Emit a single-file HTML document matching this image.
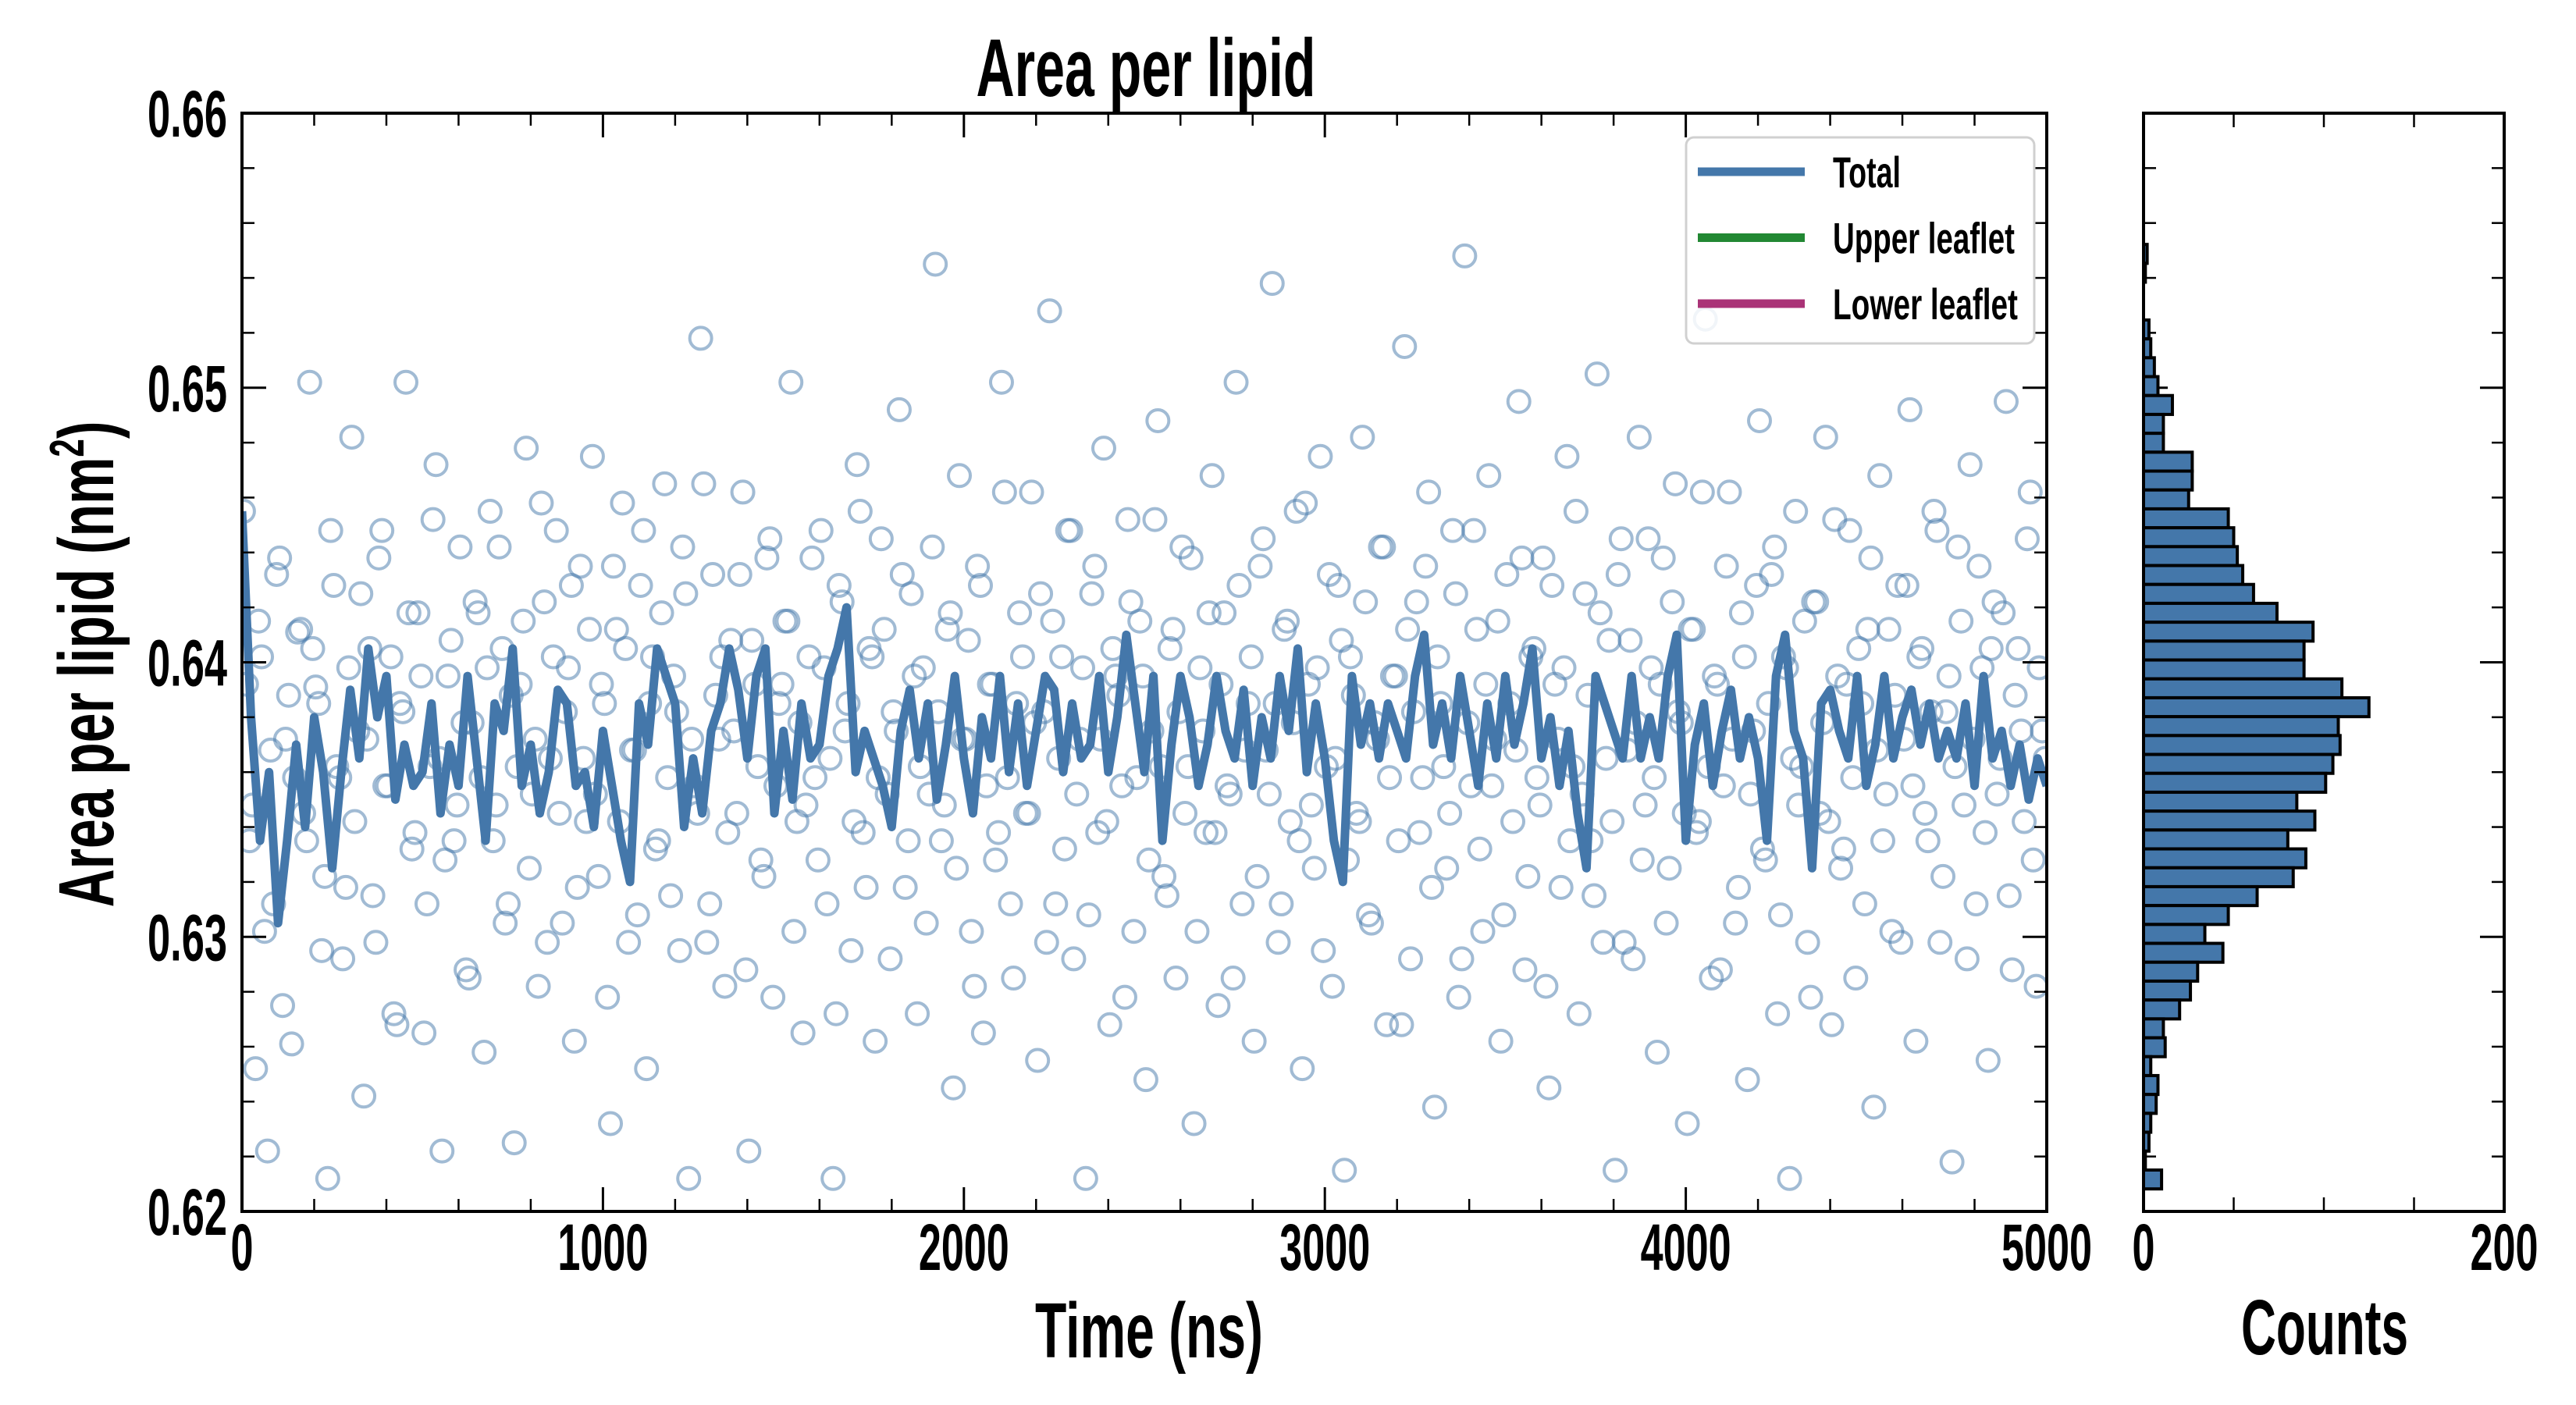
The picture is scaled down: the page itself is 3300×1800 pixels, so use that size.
<!DOCTYPE html>
<html><head><meta charset="utf-8"><style>
html,body{margin:0;padding:0;background:#fff}
svg{display:block}
text{font-family:"Liberation Sans",sans-serif;font-weight:bold;fill:#000}
</style></head><body>
<svg id="chart" width="3300" height="1800" viewBox="0 0 3300 1800" xmlns="http://www.w3.org/2000/svg"></svg>
<script>
// ---- data ----
const lineValues = [0.6455,0.638,0.6335,0.636,0.6305,0.6335,0.637,0.634,0.638,0.636,
0.6325,0.636,0.639,0.6365,0.6405,0.638,0.6395,0.635,0.637,0.6355,
0.636,0.6385,0.6345,0.637,0.6355,0.6395,0.6365,0.6335,0.6385,0.6375,
0.6405,0.6355,0.637,0.6345,0.636,0.639,0.6385,0.6355,0.636,0.634,
0.6375,0.6355,0.6335,0.632,0.6385,0.637,0.6405,0.6395,0.6385,0.634,
0.6365,0.6345,0.6375,0.6385,0.6405,0.639,0.6365,0.6395,0.6405,0.6345,
0.6375,0.635,0.6385,0.6365,0.637,0.6395,0.6405,0.642,0.636,0.6375,
0.6365,0.6355,0.634,0.6375,0.639,0.6365,0.6385,0.635,0.637,0.6395,
0.6365,0.6345,0.638,0.6365,0.6395,0.636,0.6385,0.6355,0.6375,0.6395,
0.639,0.636,0.6385,0.6365,0.637,0.6395,0.636,0.638,0.641,0.6385,
0.636,0.6395,0.6335,0.637,0.6395,0.638,0.6355,0.637,0.6395,0.6375,
0.6365,0.639,0.6355,0.638,0.6365,0.6395,0.6375,0.6405,0.636,0.6385,
0.6365,0.6335,0.632,0.6395,0.637,0.6385,0.6365,0.6385,0.6375,0.6365,
0.6395,0.641,0.637,0.6385,0.6365,0.6395,0.6375,0.6355,0.6385,0.6365,
0.6395,0.637,0.6385,0.6405,0.6365,0.638,0.6355,0.6375,0.6345,0.6325,
0.6395,0.6385,0.6375,0.6365,0.6395,0.6365,0.638,0.6365,0.6395,0.641,
0.6335,0.637,0.6385,0.6355,0.6375,0.639,0.6365,0.638,0.6365,0.6335,
0.6395,0.641,0.6375,0.6365,0.6325,0.6385,0.639,0.6375,0.6365,0.6395,
0.6355,0.637,0.6395,0.6365,0.638,0.639,0.637,0.6385,0.6365,0.6375,
0.6365,0.6385,0.6355,0.6395,0.6365,0.6375,0.6355,0.637,0.635,0.6365,0.6355];
const scatterValues = [0.6455,0.6335,0.6252,0.6402,0.6222,0.6312,0.6438,0.6372,0.6261,0.6411,
0.6345,0.6502,0.6391,0.6295,0.6212,0.6428,0.6358,0.6318,0.6482,0.6375,
0.6242,0.6405,0.6298,0.6448,0.6355,0.6272,0.6385,0.6502,0.6332,0.6418,
0.6265,0.6362,0.6472,0.6222,0.6395,0.6335,0.6442,0.6288,0.6378,0.6418,
0.6258,0.6455,0.6348,0.6405,0.6312,0.6225,0.6392,0.6478,0.6352,0.6282,
0.6422,0.6365,0.6448,0.6305,0.6398,0.6262,0.6435,0.6342,0.6475,0.6322,
0.6385,0.6232,0.6412,0.6458,0.6298,0.6368,0.6428,0.6252,0.6402,0.6335,
0.6465,0.6315,0.6382,0.6442,0.6212,0.6355,0.6518,0.6298,0.6432,0.6372,
0.6282,0.6408,0.6345,0.6462,0.6222,0.6392,0.6328,0.6438,0.6278,0.6385,
0.6415,0.6502,0.6342,0.6265,0.6402,0.6358,0.6448,0.6312,0.6212,0.6428,
0.6375,0.6295,0.6472,0.6338,0.6405,0.6262,0.6445,0.6352,0.6382,0.6492,
0.6318,0.6425,0.6272,0.6398,0.6352,0.6545,0.6335,0.6412,0.6245,0.6468,
0.6372,0.6302,0.6435,0.6265,0.6392,0.6328,0.6502,0.6358,0.6285,0.6418,
0.6345,0.6462,0.6255,0.6382,0.6528,0.6312,0.6402,0.6448,0.6292,0.6372,
0.6212,0.6425,0.6338,0.6478,0.6268,0.6395,0.6355,0.6452,0.6302,0.6415,
0.6248,0.6375,0.6488,0.6322,0.6405,0.6285,0.6442,0.6362,0.6232,0.6398,
0.6338,0.6468,0.6275,0.6418,0.6352,0.6502,0.6312,0.6385,0.6262,0.6435,
0.6368,0.6538,0.6298,0.6412,0.6342,0.6455,0.6252,0.6392,0.6325,0.6475,
0.6362,0.6282,0.6428,0.6215,0.6402,0.6345,0.6482,0.6308,0.6378,0.6442,
0.6268,0.6395,0.6335,0.6515,0.6292,0.6422,0.6358,0.6462,0.6238,0.6385,
0.6325,0.6448,0.6278,0.6548,0.6355,0.6412,0.6302,0.6468,0.6372,0.6262,
0.6432,0.6342,0.6495,0.6288,0.6402,0.6358,0.6438,0.6245,0.6392,0.6318,
0.6475,0.6362,0.6272,0.6425,0.6335,0.6505,0.6298,0.6408,0.6215,0.6445,
0.6368,0.6292,0.6482,0.6348,0.6398,0.6258,0.6438,0.6325,0.6465,0.6378,
0.6232,0.6412,0.6342,0.6525,0.6285,0.6392,0.6355,0.6462,0.6305,0.6418,
0.6248,0.6375,0.6488,0.6328,0.6432,0.6272,0.6402,0.6212,0.6455,0.6362,
0.6298,0.6422,0.6345,0.6482,0.6268,0.6395,0.6332,0.6448,0.6285,0.6385,
0.6412,0.6238,0.6468,0.6352,0.6302,0.6428,0.6372,0.6492,0.6262,0.6405,
0.6335,0.6455,0.6298,0.6382,0.6218,0.6442,0.6348,0.6472,0.6312,0.6398,
0.6255,0.6422,0.6365,0.6495,0.6288,0.6405,0.6342,0.6462,0.6282,0.6375];
const scatterValues2 = [0.6392,0.6348,0.6415,0.6302,0.6368,0.6432,0.6275,0.6388,0.6358,0.6412,
0.6335,0.6405,0.6385,0.6322,0.6448,0.6362,0.6292,0.6398,0.6342,0.6425,
0.6372,0.6315,0.6438,0.6355,0.6402,0.6268,0.6382,0.6418,0.6338,0.6395,
0.6312,0.6452,0.6365,0.6328,0.6408,0.6348,0.6378,0.6285,0.6422,0.6358,
0.6398,0.6335,0.6442,0.6305,0.6388,0.6362,0.6415,0.6325,0.6372,0.6458,
0.6298,0.6402,0.6345,0.6382,0.6428,0.6318,0.6365,0.6412,0.6352,0.6392,
0.6278,0.6435,0.6342,0.6405,0.6368,0.6308,0.6448,0.6385,0.6332,0.6418,
0.6358,0.6395,0.6295,0.6425,0.6372,0.6345,0.6465,0.6312,0.6388,0.6402,
0.6338,0.6375,0.6432,0.6288,0.6408,0.6362,0.6322,0.6445,0.6355,0.6392,
0.6415,0.6302,0.6378,0.6348,0.6438,0.6328,0.6398,0.6365,0.6272,0.6422,
0.6385,0.6342,0.6455,0.6318,0.6402,0.6358,0.6412,0.6292,0.6375,0.6432,
0.6335,0.6395,0.6362,0.6305,0.6442,0.6382,0.6348,0.6418,0.6325,0.6372,
0.6408,0.6282,0.6428,0.6355,0.6392,0.6338,0.6462,0.6312,0.6385,0.6402,
0.6345,0.6378,0.6425,0.6298,0.6415,0.6365,0.6332,0.6448,0.6352,0.6398,
0.6308,0.6435,0.6372,0.6342,0.6405,0.6388,0.6278,0.6422,0.6358,0.6395,
0.6328,0.6452,0.6362,0.6315,0.6412,0.6382,0.6345,0.6438,0.6302,0.6375,
0.6418,0.6338,0.6392,0.6355,0.6285,0.6428,0.6368,0.6402,0.6322,0.6445,
0.6352,0.6385,0.6312,0.6415,0.6378,0.6335,0.6458,0.6348,0.6398,0.6295,
0.6432,0.6365,0.6408,0.6328,0.6388,0.6342,0.6422,0.6305,0.6372,0.6442,
0.6358,0.6395,0.6268,0.6412,0.6382,0.6338,0.6435,0.6318,0.6402,0.6362,
0.6345,0.6425,0.6292,0.6378,0.6448,0.6332,0.6392,0.6355,0.6415,0.6308,
0.6385,0.6368,0.6438,0.6322,0.6405,0.6348,0.6282,0.6428,0.6372,0.6398,
0.6335,0.6455,0.6352,0.6388,0.6315,0.6418,0.6365,0.6342,0.6432,0.6298,
0.6408,0.6378,0.6328,0.6445,0.6358,0.6392,0.6305,0.6422,0.6382,0.6345,
0.6412,0.6338,0.6462,0.6362,0.6395,0.6288,0.6435,0.6372,0.6318,0.6402,
0.6352,0.6428,0.6332,0.6385,0.6442,0.6308,0.6398,0.6365,0.6348,0.6415,
0.6278,0.6422,0.6378,0.6342,0.6452,0.6325,0.6392,0.6358,0.6405,0.6312,
0.6438,0.6368,0.6335,0.6412,0.6388,0.6298,0.6428,0.6355,0.6402,0.6345,
0.6382,0.6448,0.6322,0.6395,0.6362,0.6415,0.6292,0.6372,0.6435,0.6338,
0.6405,0.6352,0.6418,0.6315,0.6388,0.6375,0.6445,0.6328,0.6398,0.6365];
const histCountsTopDown = [2,1,0,0,3,4,6,8,16,11,11,27,27,25,47,50,52,55,61,74,94,89,89,110,125,108,109,105,101,85,95,80,90,83,63,47,34,44,30,26,20,11,12,4,8,7,4,3,1,10];
const histTop = 0.65522, histBinWidth = 0.000688;
const xTickLabels = ["0","1000","2000","3000","4000","5000"];
const yTickLabels = ["0.62","0.63","0.64","0.65","0.66"];
const legendLabels = ["Total","Upper leaflet","Lower leaflet"];
const legendColors = ["#4477aa","#228833","#aa3377"];

// ---- layout ----
const NS="http://www.w3.org/2000/svg";
const svg=document.getElementById('chart');
const L=310,R=2622,T=145,B=1552, HL=2746,HR=3208;
const X0=0,X1=5000,Y0=0.62,Y1=0.66,C1=200;
const sx=v=>L+(v-X0)/(X1-X0)*(R-L);
const sy=v=>B-(v-Y0)/(Y1-Y0)*(B-T);
const hx=c=>HL+c/C1*(HR-HL);
function el(tag,attrs,parent){const e=document.createElementNS(NS,tag);for(const k in attrs)e.setAttribute(k,attrs[k]);(parent||svg).appendChild(e);return e;}
function txt(s,x,y,size,width,anchor,rot,parent){
  const g=el('g',{},parent);
  const t=el('text',{'font-size':size,'text-anchor':anchor||'middle'},g);
  t.textContent=s;
  const w=t.getComputedTextLength()||1;
  const k=width/w;
  g.setAttribute('transform',`translate(${x},${y})`+(rot?` rotate(${rot})`:'')+` scale(${k},1)`);
  return t;
}
const plot=el('g',{});


el('clipPath',{id:'clipMain'}).appendChild(document.createElementNS(NS,'rect'));
const cr=document.querySelector('#clipMain rect');cr.setAttribute('x',L);cr.setAttribute('y',T);cr.setAttribute('width',R-L);cr.setAttribute('height',B-T);

// scatter
const sg=el('g',{'clip-path':'url(#clipMain)'},plot);


[scatterValues,scatterValues2].forEach((arr,k)=>{
  arr.forEach((v,i)=>{
    const t=X0+(i+0.25+0.5*k)*(X1-X0)/arr.length;
    const c=el('circle',{cx:sx(t),cy:sy(v),r:14,fill:'none',stroke:'#4477aa','stroke-opacity':0.5,'stroke-width':4},sg);
    
    
  });
});
// line
const pts=lineValues.map((v,i)=>sx(X0+i*(X1-X0)/(lineValues.length-1)).toFixed(1)+','+sy(v).toFixed(1)).join(' ');
const pl=el('polyline',{points:pts,fill:'none',stroke:'#4477aa','stroke-width':11,'stroke-linejoin':'round','clip-path':'url(#clipMain)'},plot);



// axes main
const ax=el('rect',{x:L,y:T,width:R-L,height:B-T,fill:'none',stroke:'#000','stroke-width':4});


for(let v=0;v<=5000;v+=200){const maj=v%1000===0,len=maj?31:16,x=sx(v);
  el('line',{x1:x,y1:B,x2:x,y2:B-len,stroke:'#000','stroke-width':maj?3:2.5});
  el('line',{x1:x,y1:T,x2:x,y2:T+len,stroke:'#000','stroke-width':maj?3:2.5});}
for(let i=0;i<=20;i++){const v=0.62+i*0.002,maj=i%5===0,len=maj?31:16,y=sy(v);
  el('line',{x1:L,y1:y,x2:L+len,y2:y,stroke:'#000','stroke-width':maj?3:2.5});
  el('line',{x1:R,y1:y,x2:R-len,y2:y,stroke:'#000','stroke-width':maj?3:2.5});
  el('line',{x1:HL,y1:y,x2:HL+len,y2:y,stroke:'#000','stroke-width':maj?3:2.5});
  el('line',{x1:HR,y1:y,x2:HR-len,y2:y,stroke:'#000','stroke-width':maj?3:2.5});}
xTickLabels.forEach((s,i)=>{const t=txt(s,sx(i*1000),1627,84,s.length*29,'middle');
  
  });
yTickLabels.forEach((s,i)=>{const t=txt(s,291,sy(0.62+i*0.01)+30,84,102,'end');
  
  });

// histogram
const hg=el('g',{});


histCountsTopDown.forEach((c,i)=>{if(!c)return;
  const yt=sy(histTop-i*histBinWidth),yb=sy(histTop-(i+1)*histBinWidth);
  const b=el('rect',{x:HL,y:yt,width:hx(c)-HL,height:yb-yt,fill:'#4477aa',stroke:'#000','stroke-width':4},hg);
  
  });
const hax=el('rect',{x:HL,y:T,width:HR-HL,height:B-T,fill:'none',stroke:'#000','stroke-width':4});


for(let c=50;c<200;c+=50){const x=hx(c);
  el('line',{x1:x,y1:B,x2:x,y2:B-18,stroke:'#000','stroke-width':2.5});
  el('line',{x1:x,y1:T,x2:x,y2:T+18,stroke:'#000','stroke-width':2.5});}
let t=txt('0',HL,1627,84,29,'middle');


t=txt('200',HR,1627,84,87,'middle');



// titles
t=txt('Area per lipid',1468,123,105,435,'middle');


t=txt('Time (ns)',1472,1739,100,292,'middle');


t=txt('Counts',2978,1735,100,214,'middle');


(function(){const g=el('g',{});const tt=el('text',{'font-size':100,'text-anchor':'middle'},g);
  tt.appendChild(document.createTextNode('Area per lipid (nm'));
  const sup=el('tspan',{'font-size':62,dy:-38},tt);sup.textContent='2';
  const cl=el('tspan',{'font-size':100,dy:38},tt);cl.textContent=')';
  const w=tt.getComputedTextLength()||1;
  g.setAttribute('transform',`translate(145,851) rotate(-90) scale(${623/w},1)`);
  
  })();

// legend
const lg=el('g',{});


el('rect',{x:2160,y:176,width:446,height:264,rx:10,fill:'#fff','fill-opacity':0.85,stroke:'#d0d0d0','stroke-width':3},lg);
const lw=[87,233,237];
legendLabels.forEach((s,i)=>{const y=220+i*84.5;
  const ln=el('line',{x1:2175,y1:y,x2:2312,y2:y,stroke:legendColors[i],'stroke-width':11},lg);
  
  
  const tt=txt(s,2348,y+20,56,lw[i],'start',0,lg);
  
  });
</script>
</body></html>
